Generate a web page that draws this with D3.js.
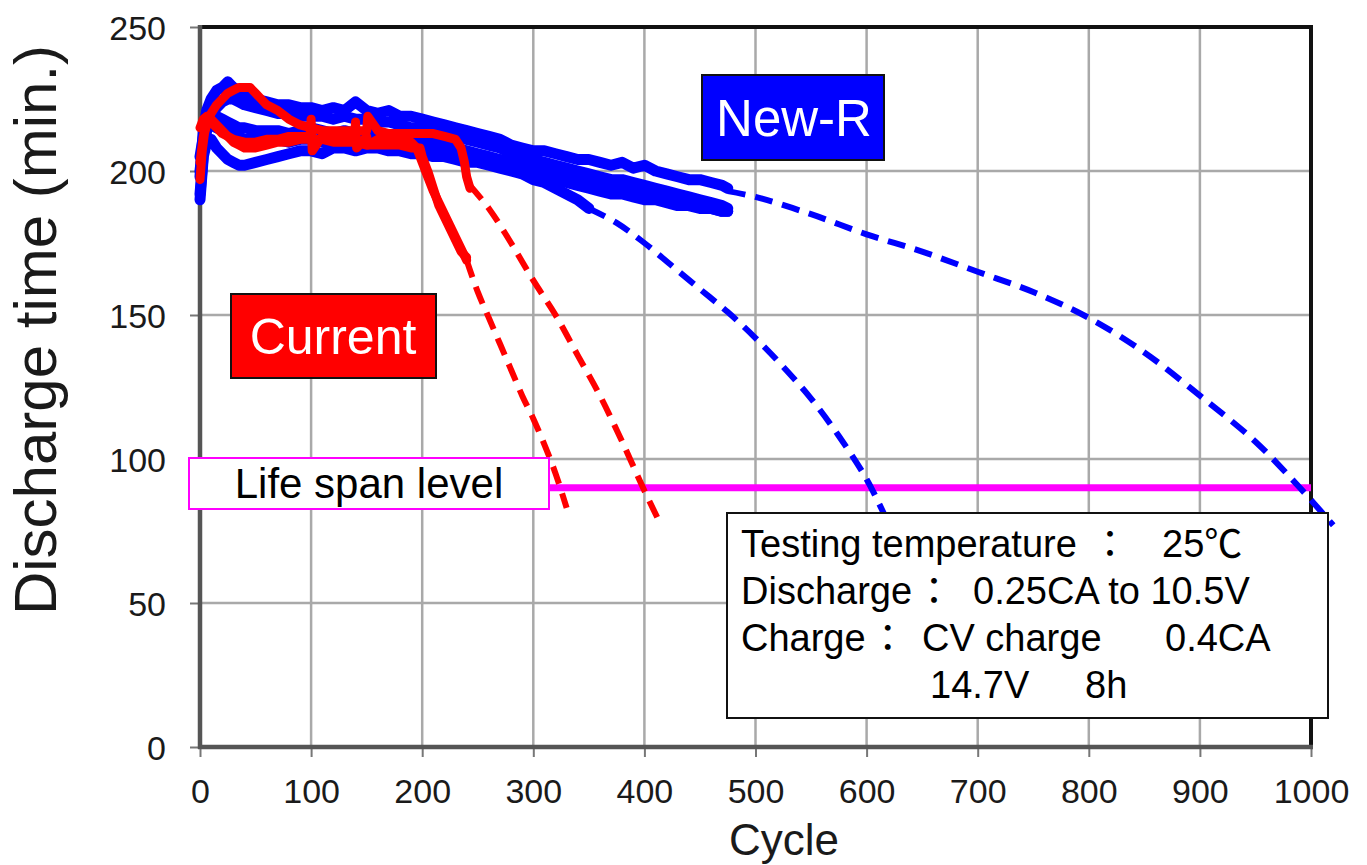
<!DOCTYPE html>
<html><head><meta charset="utf-8">
<script src="https://cdn.jsdelivr.net/npm/d3@7"></script>
<style>
html,body{margin:0;padding:0;background:#fff;}
svg{display:block;}
text{font-family:"Liberation Sans",Arial,"Noto Sans CJK JP",sans-serif;}
</style></head>
<body>
<svg id="chart" width="1367" height="865"></svg>
<script>
// ---------------- DATA ----------------
const xTicks = [0,100,200,300,400,500,600,700,800,900,1000];
const yTicks = [0,50,100,150,200,250];
const xTitle = "Cycle";
const yTitle = "Discharge time (min.)";

// New-R measured (blue)
const blueCycles = [0,3,6,10,15,20,25,30,35,40,50,60,70,80,90,100,110,120,130,140,150,160,170,180,190,200,210,220,230,240,250,260,270,280,290,300,310,320,330,340,350,360,370,380,390,400,410,420,430,440,450,460,470,475];
const blueA = [198,214,221,225,228,229,231,229,228,226,225,224,223,223,222,222,221,222,221,224,221,220,221,219,219,218,217,216,215,214,213,212,211,209,208,207,207,206,205,204,204,203,202,203,201,202,200,199,198,197,197,196,195,194];
const blueB = [192,206,214,219,222,224,225,225,224,223,222,221,220,220,219,219,219,218,219,218,218,217,217,216,215,215,214,213,212,211,210,209,208,206,205,204,203,202,201,200,199,198,197,197,196,195,194,193,192,191,190,189,188,187];
const blueC = [205,212,216,218,219,218,217,216,215,215,214,214,214,213,214,215,214,213,214,213,213,213,212,212,211,211,210,209,208,207,206,205,204,203,202,201,200,199,198,197,196,195,195,194,193,192,191,190,189,189,188,187,186,186];
const blueE = [200,210,215,216,215,214,213,212,212,211,211,210,211,210,211,211,210,211,210,211,210,210,210,209,209,208,208,207,206,205,204,203,202,201,200,199,198,197,196,195,194,193,192,192,191,190,190,189,188,188,187,187,186,186];
const blueD = [190,205,210,211,208,206,204,203,202,202,203,204,205,206,207,207,206,208,208,207,208,208,207,207,206,206,205,205,204,203,203,202,201,200,199,197,196,194,192,190,187];

// Current measured (red)
const redACycles = [0,2,4,6,10,15,20,30,40,50,60,70,80,90,99,100,101,110,120,130,139,140,141,150,151,160,170,180,190,195,200,205,210,215,220,225,230,235,240];
const redA = [197,207,213,216,217,215,213,211,210,210,211,211,212,212,212,218,207,212,211,212,212,217,208,212,209,211,211,211,210,208,203,198,193,189,185,181,177,173,169];
const redBCycles = [0,3,6,10,15,20,25,30,35,40,45,50,55,60,70,80,90,100,110,120,130,140,150,151,160,170,180,190,200,210,220,230,235,238,240,243];
const redB = [203,212,217,220,223,225,227,228,229,229,229,227,225,223,221,218,216,215,214,214,214,214,214,219,214,213,213,213,213,213,212,211,208,203,198,194];
const redCCycles = [0,3,6,10,15,20,25,30,35,40,50,60,70,80,90,100,110,120,130,140,150,160,170,180,190,198,200,205,210,215,220,225,230,235,240];
const redC = [215,218,219,218,216,214,212,210,209,208,208,209,210,210,211,211,211,210,210,210,209,209,209,209,208,208,205,200,194,188,184,180,176,172,170];

// Extrapolations (dashed)
const redExt1Cycles = [240,250,260,270,280,290,300,310,320,330];
const redExt1 = [169,158,149,140,131,122,114,105,95,83];
const redExt2Cycles = [243,260,280,300,320,340,360,380,400,415];
const redExt2 = [195,187,175,162,150,136,122,106,89,77];
const blueExt1Cycles = [350,375,400,425,450,475,500,525,550,575,600,618];
const blueExt1 = [187,182,175,167,159,151,142,132,121,108,93,79];
const blueExt2Cycles = [475,500,550,600,650,700,750,800,850,900,950,990,1020];
const blueExt2 = [193,191,185,178,172,165,158,149,137,122,106,90,77];

// Life span level
const lifeSpan = 90;
const lifeSpanFrom = 315;
const lifeSpanTo = 1000;

// Labels
const labelCurrent = "Current";
const labelNew = "New-R";
const labelLife = "Life span level";
const noteLine1 = ["Testing temperature", "：", "25℃"];
const noteLine2 = ["Discharge", "：", "0.25CA to 10.5V"];
const noteLine3 = ["Charge", "：", "CV charge", "0.4CA"];
const noteLine4 = ["14.7V", "8h"];

// ---------------- CHART ----------------
const svg = d3.select("#chart");
const x = d3.scaleLinear().domain([0,1000]).range([200,1311]);
const y = d3.scaleLinear().domain([0,250]).range([747,27]);

// grid
const g = svg.append("g");
g.selectAll("line.vg").data(xTicks.filter(d=>d>0 && d<1000)).enter().append("line")
  .attr("x1",d=>x(d)).attr("x2",d=>x(d)).attr("y1",y(250)).attr("y2",y(0))
  .attr("stroke","#a9a9a9").attr("stroke-width",2.5);
g.selectAll("line.hg").data(yTicks.filter(d=>d>0 && d<250)).enter().append("line")
  .attr("x1",x(0)).attr("x2",x(1000)).attr("y1",d=>y(d)).attr("y2",d=>y(d))
  .attr("stroke","#a9a9a9").attr("stroke-width",2.5);

// axes
const yAxis = d3.axisLeft(y).tickValues(yTicks).tickSize(10).tickPadding(24).tickFormat(d3.format("d"));
const xAxis = d3.axisBottom(x).tickValues(xTicks).tickSize(10).tickPadding(22).tickFormat(d3.format("d"));
const ya = svg.append("g").attr("transform",`translate(${x(0)},0)`).call(yAxis);
const xa = svg.append("g").attr("transform",`translate(0,${y(0)})`).call(xAxis);
[ya,xa].forEach(a=>{
  a.select(".domain").remove();
  a.selectAll(".tick line").attr("stroke","#777").attr("stroke-width",2);
  a.selectAll(".tick text").attr("font-size",34).attr("fill","#1a1a1a")
   .style("font-family","'Liberation Sans',Arial,sans-serif");
});
ya.selectAll(".tick text").attr("dy","0.36em");

// frame
svg.append("line").attr("x1",x(0)).attr("x2",x(1000)).attr("y1",y(250)).attr("y2",y(250)).attr("stroke","#111").attr("stroke-width",4);
svg.append("line").attr("x1",x(1000)).attr("x2",x(1000)).attr("y1",y(250)-2).attr("y2",y(0)).attr("stroke","#111").attr("stroke-width",4);
svg.append("line").attr("x1",x(0)).attr("x2",x(0)).attr("y1",y(250)-2).attr("y2",y(0)+2).attr("stroke","#555").attr("stroke-width",4.5);
svg.append("line").attr("x1",x(0)-2).attr("x2",x(1000)+2).attr("y1",y(0)).attr("y2",y(0)).attr("stroke","#555").attr("stroke-width",4.5);

// titles
svg.append("text").attr("x",784).attr("y",855).attr("text-anchor","middle")
  .attr("font-size",44).attr("fill","#1a1a1a").text(xTitle);
svg.append("text").attr("transform","translate(56,330) rotate(-90)").attr("text-anchor","middle")
  .attr("font-size",60).attr("fill","#1a1a1a").text(yTitle);

// lines
const zip = (c,v)=>v.map((val,i)=>[c[i],val]);
const lineSolid = d3.line().x(d=>x(d[0])).y(d=>y(d[1]));
const lineSmooth = d3.line().x(d=>x(d[0])).y(d=>y(d[1])).curve(d3.curveCatmullRom);

function solid(c,v,color,w){
  svg.append("path").attr("d",lineSolid(zip(c,v))).attr("fill","none")
    .attr("stroke",color).attr("stroke-width",w).attr("stroke-linejoin","round").attr("stroke-linecap","round");
}
function dashed(c,v,color){
  svg.append("path").attr("d",lineSmooth(zip(c,v))).attr("fill","none")
    .attr("stroke",color).attr("stroke-width",6).attr("stroke-dasharray","18,10");
}

// magenta life span level
svg.append("line").attr("x1",x(lifeSpanFrom)).attr("x2",x(lifeSpanTo)).attr("y1",y(lifeSpan)).attr("y2",y(lifeSpan))
  .attr("stroke","#ff00ff").attr("stroke-width",7);

dashed(blueExt1Cycles, blueExt1, "#0000ff");
dashed(blueExt2Cycles, blueExt2, "#0000ff");
dashed(redExt1Cycles, redExt1, "#ff0000");
dashed(redExt2Cycles, redExt2, "#ff0000");

solid(blueCycles, blueA, "#0000ff", 11);
solid(blueCycles, blueB, "#0000ff", 11);
solid(blueCycles, blueC, "#0000ff", 11);
solid(blueCycles, blueE, "#0000ff", 11);
solid(blueCycles.slice(0,blueD.length), blueD, "#0000ff", 11);
solid(redACycles, redA, "#ff0000", 9);
solid(redBCycles, redB, "#ff0000", 9);
solid(redCCycles, redC, "#ff0000", 9);

// Life span label box
svg.append("rect").attr("x",189).attr("y",458).attr("width",360).attr("height",51)
  .attr("fill","#fff").attr("stroke","#ff00ff").attr("stroke-width",2);
svg.append("text").attr("x",369).attr("y",498).attr("text-anchor","middle")
  .attr("font-size",42).attr("fill","#000").text(labelLife);

// Current box
svg.append("rect").attr("x",231).attr("y",294).attr("width",205).attr("height",84)
  .attr("fill","#ff0000").attr("stroke","#111").attr("stroke-width",2);
svg.append("text").attr("x",333).attr("y",354).attr("text-anchor","middle")
  .attr("font-size",50).attr("fill","#fff").text(labelCurrent);

// New-R box
svg.append("rect").attr("x",702).attr("y",75).attr("width",182).attr("height",85)
  .attr("fill","#0000ff").attr("stroke","#111").attr("stroke-width",2);
svg.append("text").attr("x",794).attr("y",136).attr("text-anchor","middle")
  .attr("font-size",51).attr("fill","#fff").text(labelNew);

// Note box
svg.append("rect").attr("x",727).attr("y",513).attr("width",601).attr("height",205)
  .attr("fill","#fff").attr("stroke","#111").attr("stroke-width",2);
const nt = svg.append("g").attr("font-size",38).attr("fill","#000");
function noteRow(parts, xs, yb, colonPos){
  let prevEnd = 0;
  parts.forEach((p,i)=>{
    const t = nt.append("text").attr("y",yb).text(p);
    if(p==="："){
      const cx = colonPos != null ? colonPos : prevEnd + 22;
      t.style("font-family","'Noto Sans CJK JP',sans-serif").attr("text-anchor","middle").attr("x",cx);
    } else {
      t.attr("x",xs[i]);
      prevEnd = xs[i] + t.node().getComputedTextLength();
    }
  });
}
noteRow(noteLine1, [741,0,1162], 557, 1110);
noteRow(noteLine2, [741,0,973], 604);
noteRow(noteLine3, [741,0,922,1165], 651);
noteRow(noteLine4, [930,1085], 698);
</script>
</body></html>
